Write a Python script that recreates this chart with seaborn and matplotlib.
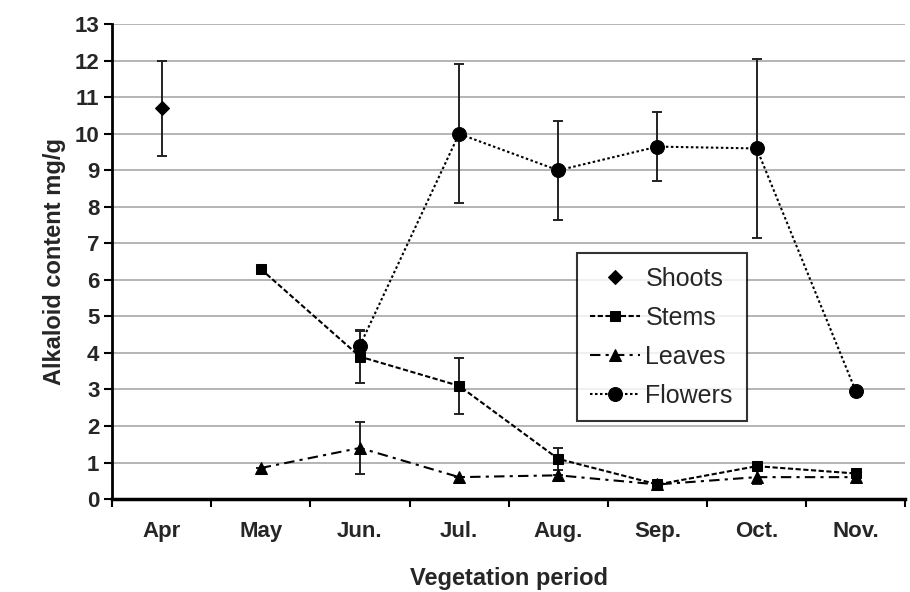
import numpy as np
import pandas as pd
import matplotlib
matplotlib.use('Agg')
import matplotlib.pyplot as plt
from matplotlib.ticker import FixedLocator
import seaborn as sns

months = ['Apr', 'May', 'Jun.', 'Jul.', 'Aug.', 'Sep.', 'Oct.', 'Nov.']
shoots = [10.7, np.nan, np.nan, np.nan, np.nan, np.nan, np.nan, np.nan]
shoots_err = [1.3, np.nan, np.nan, np.nan, np.nan, np.nan, np.nan, np.nan]
stems = [np.nan, 6.3, 3.9, 3.1, 1.1, 0.4, 0.9, 0.7]
stems_err = [np.nan, 0, 0.73, 0.77, 0.3, 0, 0.1, 0.1]
leaves = [np.nan, 0.85, 1.4, 0.6, 0.65, 0.4, 0.6, 0.6]
leaves_err = [np.nan, 0, 0.72, 0, 0, 0, 0.2, 0]
flowers = [np.nan, np.nan, 4.2, 10.0, 9.0, 9.65, 9.6, 2.95]
flowers_err = [np.nan, np.nan, 0.4, 1.9, 1.35, 0.95, 2.45, 0]

sns.set_style("white")
plt.rcParams['font.family'] = ['Liberation Sans', 'DejaVu Sans']
plt.rcParams['font.weight'] = 'bold'

fig = plt.figure(figsize=(9.1, 5.92), dpi=100)
ax = fig.add_axes([0.123, 0.157, 0.872, 0.802])

x = np.arange(len(months))
series = [
    ('Shoots', shoots, shoots_err, 'D', 'None', 7),
    ('Stems', stems, stems_err, 's', (0, (2.5, 1.2)), 7.5),
    ('Leaves', leaves, leaves_err, '^', (0, (5, 2.5, 1.5, 2.5)), 8.5),
    ('Flowers', flowers, flowers_err, 'o', (0, (1.2, 1.2)), 10),
]

for name, vals, errs, mk, ls, ms in series:
    df = pd.DataFrame({'x': x, 'y': vals, 'e': errs}).dropna()
    ax.errorbar(df['x'], df['y'], yerr=df['e'], fmt='none', ecolor='#222222',
                elinewidth=1.4, capsize=3.5, capthick=1.4, zorder=2)
    sns.lineplot(data=df, x='x', y='y', ax=ax, color='black', marker=mk,
                 markersize=ms, markeredgecolor='black', linewidth=1.5,
                 linestyle=ls if ls != 'None' else '-', label=name, zorder=3)
    if ls == 'None':
        ax.lines[-1].set_linestyle('None')

ax.set_xlim(-0.5, 7.5)
ax.set_ylim(0, 13)
ax.set_yticks(range(0, 14))
ax.set_xticks(x)
ax.set_xticklabels(months)
ax.xaxis.set_minor_locator(FixedLocator(np.arange(-0.5, 8, 1)))
ax.tick_params(axis='x', which='major', length=0, labelsize=16, pad=16)
ax.tick_params(axis='x', which='minor', length=6, width=1.5, direction='out',
               color='black', bottom=True)
ax.tick_params(axis='y', length=6, width=1.5, direction='out', color='black',
               left=True, labelsize=16, pad=3)
for lab in ax.get_xticklabels() + ax.get_yticklabels():
    lab.set_fontweight('bold')

ax.yaxis.grid(True, color='#b4b4b4', linewidth=1.4)
ax.set_axisbelow(True)
for s in ['top', 'right']:
    ax.spines[s].set_visible(False)
ax.spines['left'].set_linewidth(2)
ax.spines['bottom'].set_linewidth(2.5)
ax.spines['left'].set_color('black')
ax.spines['bottom'].set_color('black')

ax.set_xlabel('Vegetation period', fontsize=17, fontweight='bold', labelpad=18)
ax.set_ylabel('Alkaloid content mg/g', fontsize=17, fontweight='bold', labelpad=6)

leg = ax.legend(loc='upper left', bbox_to_anchor=(0.57, 0.545), fontsize=18,
                frameon=True, fancybox=False, handlelength=2.0,
                borderpad=0.55, labelspacing=0.6, handletextpad=0.2)
leg.get_frame().set_edgecolor('black')
leg.get_frame().set_linewidth(1.5)
for t in leg.get_texts():
    t.set_fontweight('normal')

fig.savefig('out.png', dpi=100)
